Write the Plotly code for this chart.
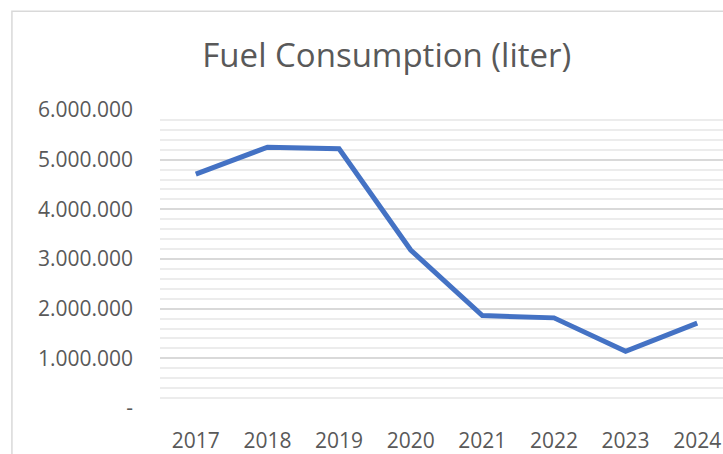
import plotly.graph_objects as go

years = ["2017", "2018", "2019", "2020", "2021", "2022", "2023", "2024"]
fuel_liters = [4710000, 5250000, 5220000, 3180000, 1860000, 1815000, 1140000, 1710000]
y_tick_values = [0, 1000000, 2000000, 3000000, 4000000, 5000000, 6000000]
y_tick_labels = ["-", "1.000.000", "2.000.000", "3.000.000", "4.000.000", "5.000.000", "6.000.000"]
title_text = "Fuel Consumption (liter)"

FONT = "Open Sans"
GREY_TEXT = "#595959"

fig = go.Figure()
fig.add_trace(go.Scatter(
    x=years, y=fuel_liters, mode="lines",
    line=dict(color="#4472C4", width=5),
    hoverinfo="x+y",
))

fig.update_layout(
    width=723, height=454,
    margin=dict(l=160, r=0, t=110, b=46),
    paper_bgcolor="white", plot_bgcolor="white",
    showlegend=False,
    title=dict(text=title_text, x=0.535, xref="container", xanchor="center",
               y=1 - 55 / 454, yref="container", yanchor="middle",
               font=dict(family=FONT, size=33, color=GREY_TEXT)),
    xaxis=dict(
        type="category", range=[-0.5, 7.36],
        showgrid=False, zeroline=False, showline=False,
        ticks="", ticklabelstandoff=18,
        tickfont=dict(family=FONT, size=21, color=GREY_TEXT),
    ),
    yaxis=dict(
        range=[0, 6000000],
        tickvals=y_tick_values, ticktext=y_tick_labels,
        showgrid=True, gridcolor="#d9d9d9", gridwidth=1.5,
        zeroline=False, showline=False, ticks="",
        ticklabelstandoff=26,
        tickfont=dict(family=FONT, size=21, color=GREY_TEXT),
        minor=dict(dtick=200000, showgrid=True, gridcolor="#ececec", gridwidth=1.5),
    ),
    shapes=[dict(type="rect", xref="paper", yref="paper",
                 x0=-0.263, x1=1.2, y0=-0.5, y1=1.331,
                 line=dict(color="#d9d9d9", width=1.5), fillcolor="rgba(0,0,0,0)",
                 layer="below")],
)

fig.write_html(
    "out.html",
    config={"displayModeBar": False},
    post_script="document.body.style.margin='0';document.body.style.overflow='hidden';",
)
